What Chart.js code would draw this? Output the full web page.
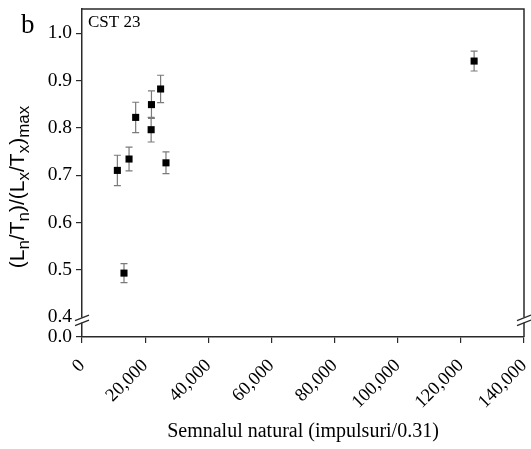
<!DOCTYPE html>
<html>
<head>
<meta charset="utf-8">
<script src="https://cdn.jsdelivr.net/npm/chart.js@4/dist/chart.umd.min.js"></script>
<style>
  html, body { margin: 0; padding: 0; background: #fff; }
</style>
</head>
<body>
<canvas id="chart" width="531" height="449"></canvas>
<script>
// values
const signal = [11200, 13300, 14900, 17000, 21900, 22000, 24900, 26600, 124200];
const ratio = [0.710, 0.493, 0.734, 0.822, 0.796, 0.849, 0.882, 0.726, 0.941];
const ratioErr = [0.032, 0.020, 0.025, 0.032, 0.026, 0.029, 0.029, 0.023, 0.021];

const xTicks = [0, 20000, 40000, 60000, 80000, 100000, 120000, 140000];
const yTicks = [0.4, 0.5, 0.6, 0.7, 0.8, 0.9, 1.0];
const yBreakValue = 0.358;   // bottom of the broken axis, labelled "0.0"
const yBreakLabel = "0.0";
const yTop = 1.051;

const panelLabel = "b";
const sampleLabel = "CST 23";
const xTitle = "Semnalul natural (impulsuri/0.31)";

const serif = "'Liberation Serif', 'Times New Roman', serif";
const sans = "'Liberation Sans', Arial, sans-serif";
const axisColor = "#2a2a2a";

// error bars, drawn under the markers
const errorBars = {
  id: "errorBars",
  beforeDatasetsDraw(chart) {
    const { ctx, scales: { x, y } } = chart;
    ctx.save();
    ctx.strokeStyle = "#7a7a7a";
    ctx.lineWidth = 1.2;
    for (let i = 0; i < signal.length; i++) {
      const px = x.getPixelForValue(signal[i]);
      const top = y.getPixelForValue(ratio[i] + ratioErr[i]);
      const bot = y.getPixelForValue(ratio[i] - ratioErr[i]);
      ctx.beginPath();
      ctx.moveTo(px, top); ctx.lineTo(px, bot);
      ctx.moveTo(px - 3.5, top); ctx.lineTo(px + 3.5, top);
      ctx.moveTo(px - 3.5, bot); ctx.lineTo(px + 3.5, bot);
      ctx.stroke();
    }
    ctx.restore();
  }
};

// frame, axis breaks, labels and the y title with subscripts
const decorations = {
  id: "decorations",
  afterDraw(chart) {
    const { ctx, chartArea: a, scales: { y } } = chart;
    ctx.save();

    // top and right frame
    ctx.strokeStyle = axisColor;
    ctx.lineWidth = 1.5;
    ctx.beginPath();
    ctx.moveTo(a.left, a.top);
    ctx.lineTo(a.right, a.top);
    ctx.lineTo(a.right, a.bottom);
    ctx.stroke();

    // break marks on both vertical axes
    const yb = y.getPixelForValue(yTicks[0]) + 3;
    for (const xa of [a.left, a.right]) {
      ctx.fillStyle = "#fff";
      ctx.fillRect(xa - 2, yb - 2.5, 4, 5);
      ctx.strokeStyle = axisColor;
      ctx.lineWidth = 1.3;
      ctx.beginPath();
      ctx.moveTo(xa - 7, yb + 0.5); ctx.lineTo(xa + 7, yb - 5);
      ctx.moveTo(xa - 7, yb + 5.5); ctx.lineTo(xa + 7, yb);
      ctx.stroke();
    }

    ctx.fillStyle = "#000";
    ctx.textBaseline = "alphabetic";
    ctx.textAlign = "left";
    ctx.font = "27px " + serif;
    ctx.fillText(panelLabel, 21, 33);
    ctx.font = "17px " + serif;
    ctx.fillText(sampleLabel, a.left + 6, a.top + 18);

    // y title: (Ln/Tn)/(Lx/Tx)max
    const parts = [["(L", 0], ["n", 1], ["/T", 0], ["n", 1], [")/(L", 0], ["x", 1],
                   ["/T", 0], ["x", 1], [")", 0], ["max", 1]];
    const mainFont = "21px " + sans, subFont = "17px " + sans;
    let total = 0;
    for (const [t, s] of parts) {
      ctx.font = s ? subFont : mainFont;
      total += ctx.measureText(t).width;
    }
    ctx.translate(24, 187);
    ctx.rotate(-Math.PI / 2);
    let pos = -total / 2;
    for (const [t, s] of parts) {
      ctx.font = s ? subFont : mainFont;
      ctx.fillText(t, pos, s ? 5 : 0);
      pos += ctx.measureText(t).width;
    }
    ctx.restore();
  }
};

new Chart(document.getElementById("chart"), {
  type: "scatter",
  data: {
    datasets: [{
      data: signal.map((v, i) => ({ x: v, y: ratio[i] })),
      pointStyle: "rect",
      pointRadius: 5,
      pointHoverRadius: 5,
      backgroundColor: "#000",
      borderWidth: 0
    }]
  },
  options: {
    responsive: false,
    animation: false,
    devicePixelRatio: 1,
    events: [],
    layout: { padding: { left: 0, right: 7, top: 9, bottom: 0 } },
    plugins: { legend: { display: false }, tooltip: { enabled: false } },
    scales: {
      x: {
        type: "linear",
        min: xTicks[0],
        max: xTicks[xTicks.length - 1],
        afterBuildTicks: s => { s.ticks = xTicks.map(v => ({ value: v })); },
        afterFit: s => { s.height = 112; s.paddingLeft = 0; s.paddingRight = 0; },
        ticks: {
          minRotation: 45,
          maxRotation: 45,
          padding: 12,
          color: "#000",
          font: { family: serif, size: 18.5 },
          callback: v => v.toLocaleString("en-US")
        },
        grid: { drawOnChartArea: false, drawTicks: true, tickLength: 6, color: axisColor, lineWidth: 1.2 },
        border: { display: true, color: axisColor, width: 1.5 },
        title: {
          display: true,
          text: xTitle,
          color: "#000",
          font: { family: serif, size: 20 },
          padding: { top: 0, bottom: 5 }
        }
      },
      y: {
        type: "linear",
        min: yBreakValue,
        max: yTop,
        afterBuildTicks: s => { s.ticks = [yBreakValue, ...yTicks].map(v => ({ value: v })); },
        afterFit: s => { s.width = 82; s.paddingTop = 0; s.paddingBottom = 0; },
        ticks: {
          padding: 4,
          color: "#000",
          font: { family: serif, size: 19.5 },
          callback: v => (v === yBreakValue ? yBreakLabel : v.toFixed(1))
        },
        grid: {
          drawOnChartArea: false,
          drawTicks: true,
          tickLength: 6,
          lineWidth: 1.2,
          color: axisColor,
          tickColor: c => (c.tick && c.tick.value === yTicks[0] ? "rgba(0,0,0,0)" : axisColor)
        },
        border: { display: true, color: axisColor, width: 1.5 }
      }
    }
  },
  plugins: [errorBars, decorations]
});
</script>
</body>
</html>
